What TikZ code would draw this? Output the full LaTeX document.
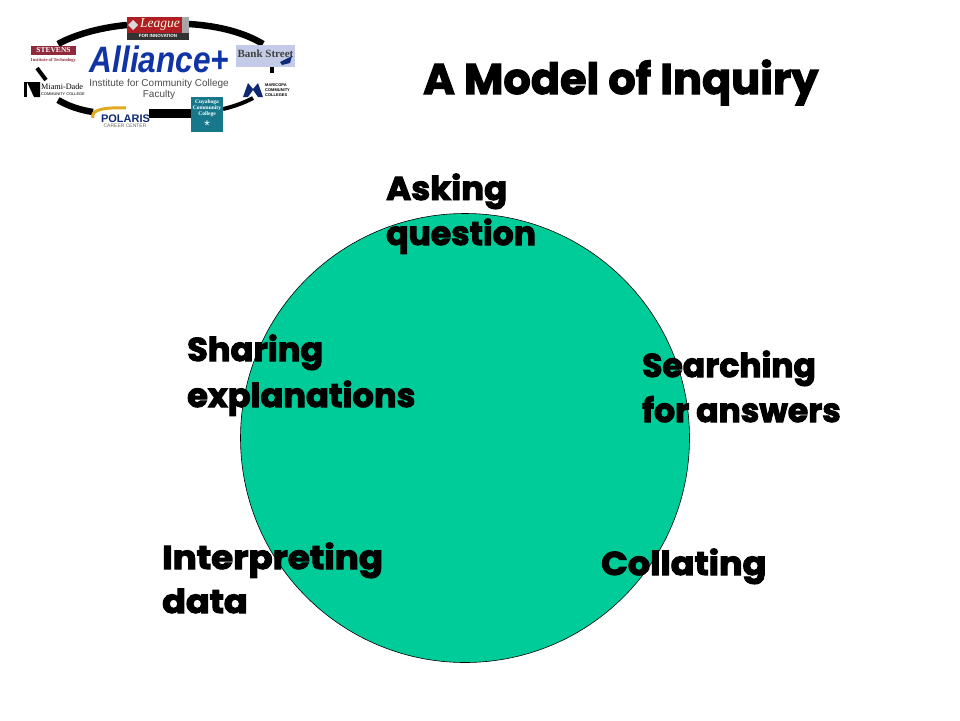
\documentclass[tikz,border=0pt]{standalone}
\usepackage{fontspec}
\setmainfont{Poppins}[UprightFont=*-Bold,BoldFont=*-Bold]
\newfontfamily\titlefont{Poppins}[UprightFont=*-Bold,FakeBold=2.5]
\newfontfamily\labelfont{Poppins}[UprightFont=*-Bold,FakeBold=3]
\newfontfamily\logofont{Liberation Sans}
\newfontfamily\logoserif{Liberation Serif}
\definecolor{discgreen}{HTML}{00CC99}
\definecolor{leaguered}{HTML}{B01E24}
\definecolor{stevensred}{HTML}{8E2A3C}
\definecolor{allianceblue}{HTML}{1034A6}
\definecolor{cuyteal}{HTML}{17788C}
\definecolor{bankblue}{HTML}{C4CBE6}
\definecolor{maricopa}{HTML}{0F2A75}
\definecolor{polarisgold}{HTML}{E0A91E}
\tikzset{
  steplabel/.style={font=\labelfont\fontsize{33}{33}\selectfont,anchor=base west,inner sep=0pt},
  logotext/.style={inner sep=0pt,text=black},
  ring/.style={line width=6.5pt,black}
}
\begin{document}
\begin{tikzpicture}[x=1pt,y=-1pt]

\useasboundingbox (0,0) rectangle (960,720);

% logo ring
\draw [ring] (58,44) .. controls (78,33) and (105,27) .. (127,25);
\draw [ring] (189,24) .. controls (220,26) and (245,33) .. (263,44);
\draw [ring,line width=4pt] (272,67) -- (272,73);
\draw [ring,line width=4pt] (37,68) -- (46,80);
\draw [ring] (58,100) .. controls (68,106) and (80,110) .. (93,112);
\draw [ring,line width=9pt] (149,113) -- (191,113);
\draw [ring,line width=4pt] (223,109) .. controls (232,107) and (244,103) .. (253,98);

% logo boxes
\fill [leaguered] (127,17) rectangle (182,33);
\fill [black!80] (127,33) rectangle (189,40);
\fill [black!35] (182,17) rectangle (189,33);
\fill [white!85!black] (133,20) -- (138,25) -- (133,30) -- (128,25) -- cycle;
\node [inner sep=0pt,text=white!90!yellow] (league) at (160,24.5) {\logoserif\itshape\fontsize{13.5}{13.5}\selectfont League};
\node [inner sep=0pt,text=white] (leaguesub) at (158,35.5) {\logofont\bfseries\fontsize{4.5}{4.5}\selectfont FOR INNOVATION};
\fill [stevensred] (31,46) rectangle (76,55);
\node [inner sep=0pt,text=white] (stevens) at (53.5,50.5) {\logoserif\bfseries\fontsize{7.5}{7.5}\selectfont STEVENS};
\node [inner sep=0pt,text=stevensred] (stevenssub) at (53.5,60) {\logoserif\bfseries\fontsize{4.6}{4.6}\selectfont Institute of Technology};
\fill [bankblue] (236,45) rectangle (295,67);
\node [inner sep=0pt,text=black!75] (bank) at (265.5,53.5) {\logoserif\bfseries\fontsize{11}{11}\selectfont Bank Street};
\fill [maricopa] (280,62) -- (292,56) -- (290,63) -- (282,65) -- cycle;
\fill [black] (24,82) rectangle (27,97);
\fill [black] (27,82) -- (40,82) -- (40,97) -- (34,97) -- cycle;
\node [logotext,anchor=west] (miami) at (41,86.5) {\logoserif\fontsize{8.2}{8.2}\selectfont Miami-Dade};
\node [logotext,anchor=west] (miamisub) at (41,94) {\logofont\fontsize{3.9}{3.9}\selectfont COMMUNITY COLLEGE};
\fill [maricopa] (243,97) -- (248,83) -- (253,89) -- (258,83) -- (263,97) -- (258,97) -- (253,90) -- (248,97) -- cycle;
\node [logotext,anchor=west,align=left,font=\logofont\bfseries\fontsize{4}{5.2}\selectfont] (maricopa) at (265,90) {MARICOPA\\COMMUNITY\\COLLEGES};
\draw [polarisgold,line width=3pt] (126,108) .. controls (104,107) and (90,110) .. (93,118);
\node [inner sep=0pt,text=maricopa] (polaris) at (125.5,118.5) {\logofont\bfseries\fontsize{11}{11}\selectfont POLARIS};
\node [inner sep=0pt,text=black!60] (polarissub) at (125,125.5) {\logofont\fontsize{5}{5}\selectfont CAREER CENTER};
\fill [cuyteal] (191,97) rectangle (223,132);
\node [inner sep=0pt,text=white,align=center,font=\logoserif\bfseries\fontsize{5.5}{6.2}\selectfont] (cuyahoga) at (207,108) {Cuyahoga\\Community\\College};
\node [inner sep=0pt,text=white] (snow) at (207,126) {\logofont\fontsize{14}{14}\selectfont *};

% logo text
\node [inner sep=0pt,text=allianceblue,xscale=.93,yscale=1.08,transform shape] (alliance) at (159.5,59) {\logofont\bfseries\itshape\fontsize{34}{34}\selectfont Alliance+};
\node [inner sep=0pt,text=black!70] (institute) at (159,84) {\logofont\fontsize{10}{10}\selectfont Institute for Community College};
\node [inner sep=0pt,text=black!70] (faculty) at (159,95) {\logofont\fontsize{10}{10}\selectfont Faculty};

% title
\node [inner sep=0pt,anchor=base west] (title) at (423,94) {\titlefont\fontsize{43}{43}\selectfont A Model of Inquiry};

% circle
\node [circle,draw=black,fill=discgreen,line width=0.6pt,minimum size=449pt,inner sep=0pt] (disc) at (465,438) {};

% labels
\node [steplabel,xscale=1.03,transform shape] (ask1) at (386,200) {Asking};
\node [steplabel] (ask2) at (386,245) {question};
\node [steplabel,xscale=1.02,transform shape] (share1) at (187,361) {Sharing};
\node [steplabel,xscale=1.02,transform shape] (share2) at (187,407) {explanations};
\node [steplabel] (search1) at (642,377) {Searching};
\node [steplabel] (search2) at (642,422) {for answers};
\node [steplabel,xscale=1.08,transform shape] (interp1) at (162,569) {Interpreting};
\node [steplabel,xscale=1.06,transform shape] (interp2) at (162,613) {data};
\node [steplabel,xscale=1.06,transform shape] (coll) at (601,575) {Collating};

\end{tikzpicture}
\end{document}
